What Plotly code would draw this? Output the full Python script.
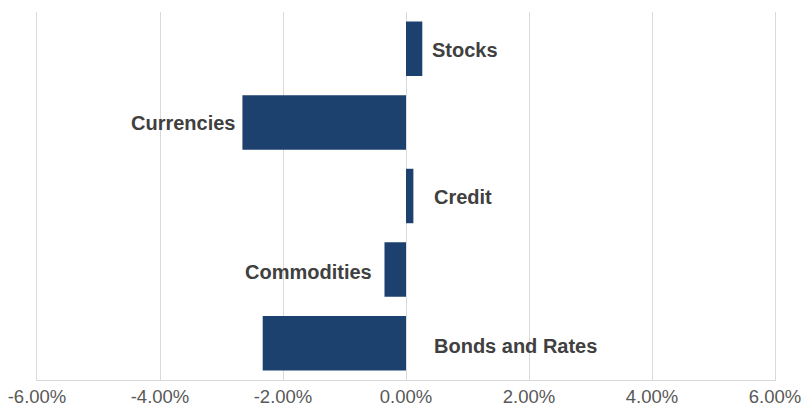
import plotly.graph_objects as go

categories = ["Stocks", "Currencies", "Credit", "Commodities", "Bonds and Rates"]
values = [0.265, -2.66, 0.12, -0.35, -2.33]  # percent
label_x = [0.39, -2.73, 0.425, -0.52, 0.425]
label_anchor = ["left", "right", "left", "right", "left"]
label_dy = [-1, -1, -1, -2, -3]
tick_vals = [-6, -4, -2, 0, 2, 4, 6]
tick_text = ["-6.00%", "-4.00%", "-2.00%", "0.00%", "2.00%", "4.00%", "6.00%"]

fig = go.Figure()
fig.add_trace(go.Bar(
    x=values, y=categories, orientation="h",
    marker=dict(color="#1c416e", line=dict(width=0)),
    hoverinfo="skip",
))

for c, lx, anc, dy in zip(categories, label_x, label_anchor, label_dy):
    fig.add_annotation(x=lx, y=c, xref="x", yref="y", text="<b>%s</b>" % c,
                       showarrow=False, xanchor=anc, yanchor="middle", yshift=dy,
                       font=dict(family="Liberation Sans, Arial", size=20, color="#404040"))

fig.update_layout(
    width=802, height=409,
    margin=dict(l=37, r=27, t=12, b=29, autoexpand=False),
    paper_bgcolor="white", plot_bgcolor="white",
    bargap=0.26, showlegend=False,
    xaxis=dict(range=[-6, 6], tickvals=tick_vals, ticktext=tick_text,
               showgrid=True, gridcolor="#d9d9d9", gridwidth=1, automargin=False,
               zeroline=False, showline=True, linecolor="#d9d9d9", linewidth=1,
               tickfont=dict(family="Liberation Sans, Arial", size=18.5, color="#595959"),
               ticks="", fixedrange=True),
    yaxis=dict(categoryorder="array", categoryarray=categories, autorange="reversed",
               automargin=False, showline=True, mirror=True, linecolor="#d9d9d9", linewidth=1,
               showticklabels=False, showgrid=False, zeroline=False, ticks="", fixedrange=True),
)

fig.write_html("out.html", config={"displayModeBar": False},
               post_script="document.body.style.margin='0px';document.body.style.overflow='hidden';")
